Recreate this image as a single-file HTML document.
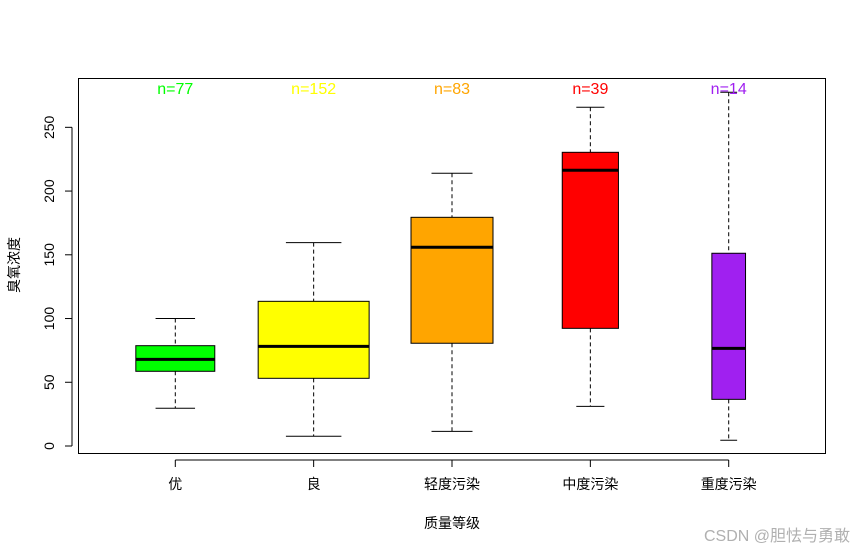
<!DOCTYPE html>
<html><head><meta charset="utf-8"><style>
body{margin:0;background:#fff;}
svg text{font-family:"Liberation Sans","Noto Sans CJK SC",sans-serif;}
</style></head><body>
<svg id="chart" width="866" height="552" xmlns="http://www.w3.org/2000/svg">
<rect x="0" y="0" width="866" height="552" fill="#fff"/>
</svg>
<script>
const categories = ["优","良","轻度污染","中度污染","重度污染"];
const counts = [77,152,83,39,14];
const whiskerLow = [29.6,7.6,11.5,31.1,4.5];
const q1Values = [58.6,53.1,80.6,92.3,36.6];
const medians = [68,78.2,155.9,216.3,76.6];
const q3Values = [78.7,113.5,179.4,230.4,151.2];
const whiskerHigh = [100,159.5,214,265.7,277.5];
const colors = ["#00ff00","#ffff00","#ffa500","#ff0000","#a020f0"];
const yTicks = [0,50,100,150,200,250];

const NS="http://www.w3.org/2000/svg";
const svg=document.getElementById('chart');
const yS=v=>446-v*1.2747;
const xS=i=>175.3+i*138.35;
function mk(tag,attrs,parent){const e=document.createElementNS(NS,tag);for(const k in attrs)e.setAttribute(k,attrs[k]);(parent||svg).appendChild(e);return e;}

const frame=mk('rect',{x:78.5,y:78.5,width:747,height:375,fill:'none',stroke:'#000','stroke-width':1});



// y axis
const yaxis=mk('g',{});


mk('line',{x1:72,x2:72,y1:yS(0),y2:yS(250),stroke:'#000'},yaxis);
yTicks.forEach(t=>{
  const y=yS(t);
  mk('line',{x1:65,x2:72,y1:y,y2:y,stroke:'#000'},yaxis);
  const tx=mk('text',{x:54,y:y,'font-size':14,'text-anchor':'middle',transform:`rotate(-90 54 ${y})`},yaxis);
  tx.textContent=t;
  
  
});
const yt=mk('text',{x:19,y:265,'font-size':14,'text-anchor':'middle',transform:'rotate(-90 19 265)'});
yt.textContent='臭氧浓度';



// x axis
const xaxis=mk('g',{});


mk('line',{x1:xS(0),x2:xS(4),y1:460,y2:460,stroke:'#000'},xaxis);
categories.forEach((c,i)=>{
  mk('line',{x1:xS(i),x2:xS(i),y1:460,y2:467,stroke:'#000'},xaxis);
  const tx=mk('text',{x:xS(i),y:489,'font-size':14,'text-anchor':'middle'},xaxis);
  tx.textContent=c;
  
  
});
const xt=mk('text',{x:452,y:528,'font-size':14,'text-anchor':'middle'});
xt.textContent='质量等级';



// boxes
categories.forEach((c,i)=>{
  const g=mk('g',{});
  
  
  const cx=xS(i), hw=4.5*Math.sqrt(counts[i]), cw=hw/2;
  mk('line',{x1:cx,x2:cx,y1:yS(whiskerHigh[i]),y2:yS(q3Values[i]),stroke:'#000','stroke-dasharray':'4,3'},g);
  mk('line',{x1:cx,x2:cx,y1:yS(q1Values[i]),y2:yS(whiskerLow[i]),stroke:'#000','stroke-dasharray':'4,3'},g);
  mk('line',{x1:cx-cw,x2:cx+cw,y1:yS(whiskerHigh[i]),y2:yS(whiskerHigh[i]),stroke:'#000'},g);
  mk('line',{x1:cx-cw,x2:cx+cw,y1:yS(whiskerLow[i]),y2:yS(whiskerLow[i]),stroke:'#000'},g);
  mk('rect',{x:cx-hw,y:yS(q3Values[i]),width:2*hw,height:yS(q1Values[i])-yS(q3Values[i]),fill:colors[i],stroke:'#000'},g);
  mk('line',{x1:cx-hw,x2:cx+hw,y1:yS(medians[i]),y2:yS(medians[i]),stroke:'#000','stroke-width':3},g);
  const n=mk('text',{x:cx,y:94,'font-size':16,'text-anchor':'middle',fill:colors[i]});
  n.textContent='n='+counts[i];
  
  
});
const wm=mk('text',{x:850,y:541,'font-size':16,'text-anchor':'end',fill:'#b0b0b0'});
wm.textContent='CSDN @胆怯与勇敢';


</script>
</body></html>
